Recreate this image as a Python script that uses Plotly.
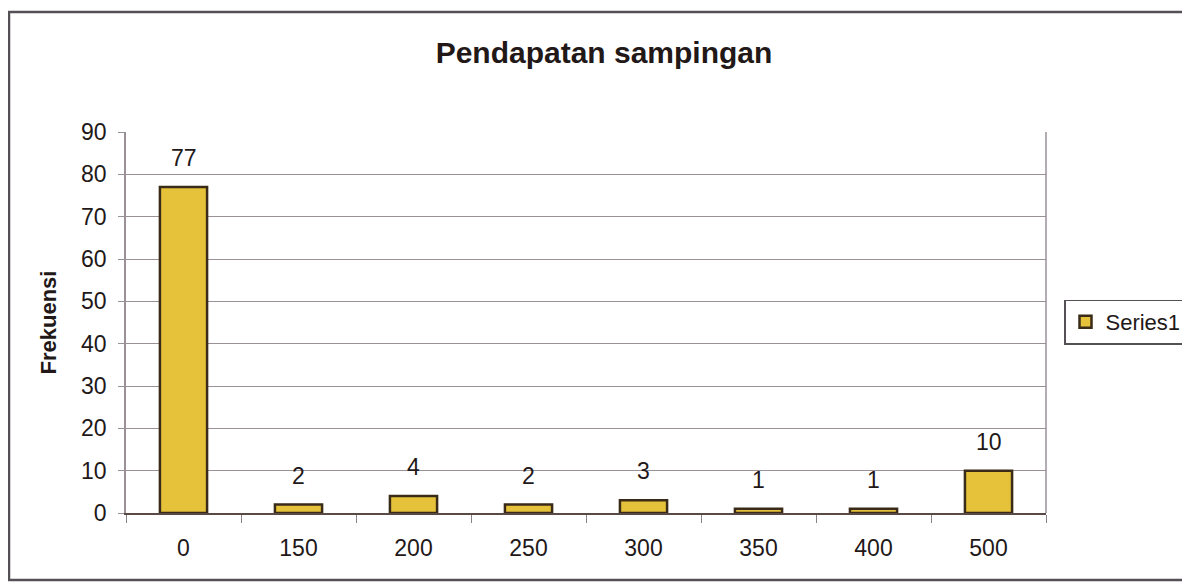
import plotly.graph_objects as go

categories = ["0", "150", "200", "250", "300", "350", "400", "500"]
frequencies = [77, 2, 4, 2, 3, 1, 1, 10]
series_name = "Series1"
title_text = "Pendapatan sampingan"
y_title = "Frekuensi"
y_ticks = [0, 10, 20, 30, 40, 50, 60, 70, 80, 90]

FONT = "Liberation Sans, Arial, sans-serif"
TXT = "#221818"

# page body has an 8px margin: work in screenshot coords, convert to figure coords
OFF = 8
W, H = 1190 - OFF, 585 - OFF
L, R, T, B = 126 - OFF, 1046 - OFF, 132 - OFF, 513 - OFF
pw, ph = R - L, B - T
def px(x): return (x - OFF - L) / pw
def py(y): return (B - (y - OFF)) / ph

fig = go.Figure()
fig.add_trace(go.Bar(
    x=categories, y=frequencies, name=series_name,
    marker=dict(color="#E5C23A", line=dict(color="#3a2a18", width=2.5)),
    width=0.41, showlegend=True,
))

for i, v in enumerate(frequencies):
    fig.add_annotation(x=i, y=v, text=str(v), showarrow=False, yshift=29,
                       font=dict(family=FONT, size=23, color=TXT))

fig.add_shape(type="rect", xref="paper", yref="paper",
              x0=px(9), x1=px(1188), y0=py(12), y1=py(580),
              line=dict(color="#555055", width=2.5), layer="below")
fig.add_shape(type="line", xref="paper", yref="paper",
              x0=1, x1=1, y0=0, y1=1, line=dict(color="#9a9098", width=1.5))

fig.update_layout(
    width=W, height=H,
    margin=dict(l=L, r=W - R, t=T, b=H - B, autoexpand=False),
    paper_bgcolor="white", plot_bgcolor="white",
    title=dict(text="<b>" + title_text + "</b>", x=px(604), xanchor="center",
               y=1 - (52 - OFF) / H, yanchor="middle", xref="paper",
               font=dict(family=FONT, size=30, color=TXT)),
    font=dict(family=FONT, color=TXT),
    legend=dict(x=px(1064), y=py(322), xanchor="left", yanchor="middle",
                bordercolor="#555055", borderwidth=1.5, bgcolor="white",
                font=dict(family=FONT, size=22, color=TXT),
                itemwidth=30),
    xaxis=dict(
        type="category", range=[-0.5, len(categories) - 0.5],
        showline=True, linecolor="#5a4a45", linewidth=2,
        ticks="outside", tickson="boundaries", ticklen=8, tickcolor="#8a8088",
        tickfont=dict(family=FONT, size=23, color=TXT),
        ticklabelstandoff=13,
        showgrid=False,
    ),
    yaxis=dict(
        range=[0, 90], tickvals=y_ticks,
        showline=True, linecolor="#9a9098", linewidth=1.5,
        ticks="outside", ticklen=6, tickcolor="#9a9098",
        tickfont=dict(family=FONT, size=23, color=TXT),
        ticklabelstandoff=7,
        showgrid=True, gridcolor="#9a9098", gridwidth=1,
        title=dict(text="<b>" + y_title + "</b>", standoff=18,
                   font=dict(family=FONT, size=22, color=TXT)),
        zeroline=False,
    ),
)

fig.write_html("out.html")
